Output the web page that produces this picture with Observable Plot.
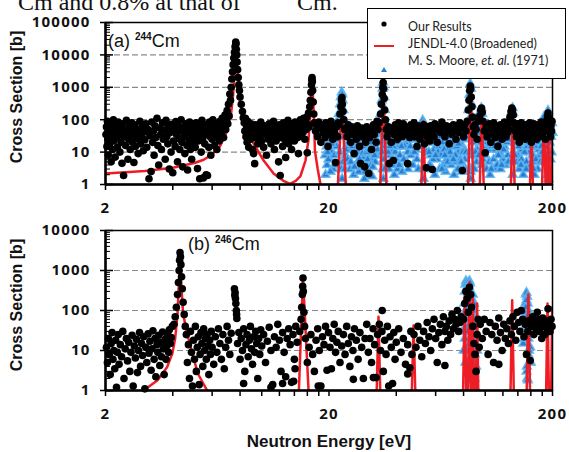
<!DOCTYPE html>
<html><head><meta charset="utf-8">
<script src="https://cdn.jsdelivr.net/npm/d3@7"></script>
<script src="https://cdn.jsdelivr.net/npm/@observablehq/plot@0.6"></script>
<style>
body{margin:0;background:#fff;}
#wrap{position:relative;width:569px;height:452px;overflow:hidden;font-family:"Liberation Sans",Arial,sans-serif;background:#fff;}
#wrap > svg{position:absolute;left:0;top:0;}
#wrap svg text{letter-spacing:1.2px;}
.abs{position:absolute;white-space:nowrap;}
.ytitle{font-weight:bold;font-size:16px;transform:translate(-50%,-50%) rotate(-90deg);color:#111;}
.plabel{font-size:18px;color:#111;}
.plabel sup{font-size:10px;font-weight:bold;vertical-align:7px;}
#legend{position:absolute;left:367px;top:8px;width:197px;height:69px;border:1.3px solid #000;background:#fff;font-family:Lato,"Liberation Sans",sans-serif;font-size:12.5px;color:#222;}
#legend .t{position:absolute;left:40px;white-space:nowrap;transform:translateY(-50%);}
</style></head><body>
<div id="wrap">
  <div class="abs" style="left:18px;top:-10px;font-family:'Liberation Serif',serif;font-size:24px;line-height:24px;color:#111;">Cm and 0.8% at that of</div>
  <div class="abs" style="left:297px;top:-10px;font-family:'Liberation Serif',serif;font-size:24px;line-height:24px;color:#111;">Cm.</div>
</div>
<script>
// ---------- tick labels ----------
const xTickLabels = [2, 20, 200];
const xMinorTicks = [2,4,6,8,10,12,14,16,18,20,40,60,80,100,120,140,160,180,200];
const yTickLabelsA = [1, 10, 100, 1000, 10000, 100000];
const yTickLabelsB = [1, 10, 100, 1000, 10000];
const yMinorTicksA = [2,3,4,5,6,7,8,9,20,30,40,50,60,70,80,90,200,300,400,500,600,700,800,900,2000,3000,4000,5000,6000,7000,8000,9000,20000,30000,40000,50000,60000,70000,80000,90000];
const yMinorTicksB = [2,3,4,5,6,7,8,9,20,30,40,50,60,70,80,90,200,300,400,500,600,700,800,900,2000,3000,4000,5000,6000,7000,8000,9000];
const gridA = [10, 100, 1000, 10000];
const gridB = [10, 100, 1000];

// ---------- (a) 244Cm : Our Results [E (eV), sigma (b)] ----------
const ourResultsA = [
[2.01,35],[2.02,60],[2.03,15],[2.04,90],[2.05,25],[2.06,8],[2.07,45],[2.09,18],[2.1,70],[2.11,30],[2.12,5],[2.14,50],[2.15,12],[2.17,100],[2.18,22],[2.2,40],[2.21,7],[2.23,65],[2.25,28],[2.26,14],[2.28,85],[2.3,35],[2.32,10],[2.33,55],[2.35,20],[2.37,4.5],[2.39,75],[2.41,1.9],[2.42,30],[2.44,48],[2.46,16],[2.48,95],[2.5,38],[2.52,6],[2.54,25],[2.56,60],[2.58,12],[2.6,45],[2.62,80],[2.64,20],[2.66,33],[2.68,4.8],[2.7,70],[2.72,15],[2.75,52],[2.77,26],[2.8,9],[2.82,40],[2.85,90],[2.87,18],[2.9,30],[2.92,62],[2.95,11],[2.98,42],
[3.0,24],[3.03,75],[3.06,14],[3.1,50],[3.13,1.5],[3.16,32],[3.2,2.5],[3.22,85],[3.25,20],[3.28,45],[3.3,8],[3.33,65],[3.36,28],[3.4,110],[3.43,16],[3.46,4],[3.5,55],[3.53,35],[3.56,12],[3.6,80],[3.63,25],[3.66,48],[3.7,6],[3.73,95],[3.76,30],[3.8,18],[3.83,60],[3.86,3],[3.9,40],[3.93,10],[3.96,72],[4.0,2.3],[4.03,22],[4.06,50],[4.1,15],[4.13,88],[4.16,35],[4.2,5],[4.23,65],[4.26,26],[4.3,12],[4.33,45],[4.36,100],[4.4,20],[4.43,3.5],[4.46,58],[4.5,30],[4.53,9],[4.56,75],[4.6,40],[4.63,16],[4.66,2.8],[4.7,55],[4.73,24],[4.76,85],[4.8,12],[4.83,38],[4.86,6],[4.9,68],[4.93,28],[4.96,18],
[5.0,48],[5.04,14],[5.08,80],[5.12,32],[5.16,3.1],[5.2,22],[5.24,60],[5.28,1.5],[5.32,40],[5.36,10],[5.4,95],[5.44,26],[5.48,1.6],[5.52,52],[5.56,18],[5.6,70],[5.64,2],[5.68,35],[5.72,1.9],[5.76,45],[5.8,14],[5.84,85],[5.88,30],[5.92,8],[5.96,58],[6.0,25],[6.05,100],[6.1,40],[6.15,16],[6.2,65],[6.25,30],[6.3,12],[6.35,75],[6.4,45],[6.45,22],[6.5,90],[6.55,55],[6.6,35],[6.65,110],[6.7,60],[6.75,28],[6.8,85],[6.85,140],[6.9,50],[6.95,100],[7.0,190],[7.05,75],[7.1,300],[7.15,130],[7.2,620],[7.25,400],
[7.3,1000],[7.35,1800],[7.4,3000],[7.45,5000],[7.5,8000],[7.55,12000],[7.6,18000],[7.65,25000],[7.68,22000],[7.7,15000],[7.73,10000],[7.76,6000],[7.8,3500],[7.85,2000],[7.9,1200],[7.95,800],[8.0,500],[8.1,300],[8.2,180],[8.27,115],
[8.35,80],[8.4,45],[8.45,110],[8.5,30],[8.55,65],[8.6,20],[8.65,90],[8.7,40],[8.75,14],[8.8,55],[8.9,25],[8.95,75],[9.0,35],[9.1,12],[9.2,9],[9.25,50],[9.3,4.4],[9.35,28],[9.4,70],[9.5,40],[9.6,18],[9.7,60],[9.8,30],[9.9,85],[10.0,22],[10.1,45],[10.2,14],[10.3,65],[10.4,35],[10.5,8],[10.6,50],[10.7,25],[10.8,75],[10.9,40],[11.0,18],[11.1,55],[11.2,30],[11.3,90],[11.4,12],[11.5,45],[11.6,22],[11.7,60],[11.8,35],[11.9,5],[12.0,70],[12.1,1.9],[12.2,28],[12.3,50],[12.4,15],[12.5,80],[12.6,38],[12.7,24],[12.8,6.8],[12.9,55],[13.0,32],[13.1,95],[13.2,18],[13.3,45],[13.4,65],[13.5,26],[13.6,12],[13.7,75],[13.8,40],[13.9,55],[14.0,22],[14.1,85],[14.2,35],[14.4,60],[14.5,28],[14.6,9],[14.7,70],[14.8,45],[14.9,100],[15.0,32],[15.1,55],[15.2,80],[15.3,40],[15.4,110],[15.5,65],[15.6,25],[15.7,90],[15.8,50],[15.9,120],[16.0,9.5],[16.1,70],[16.2,160],
[16.3,60],[16.4,250],[16.5,400],[16.6,700],[16.7,1200],[16.75,1700],[16.8,2000],[16.85,1500],[16.9,800],[17.0,350],[17.1,150],[17.2,80],
[17.4,45],[17.6,70],[17.8,30],[18.0,85],[18.2,55],[18.4,20],[18.6,70],[18.8,40],[19.0,60],[19.2,28],[19.4,80],[19.6,45],[19.8,15],[20.0,70],[20.2,35],[20.4,90],[20.6,50],[20.8,25],[21.0,65],[21.2,40],[21.4,4.8],[21.6,60],[21.8,30],[22.0,80],
[22.2,70],[22.4,150],[22.6,250],[22.75,400],[22.85,480],[22.95,300],[23.1,180],[23.3,100],[23.5,50],
[23.8,55],[24.1,30],[24.4,70],[24.7,45],[25.0,20],[25.3,60],[25.6,35],[25.9,9],[26.2,50],[26.5,25],[26.8,65],[27.1,40],[27.4,15],[27.7,4.4],[28.0,55],[28.3,30],[28.6,45],[28.9,3.5],[29.2,20],[29.5,60],[29.8,40],[30.1,2.2],[30.4,28],[30.7,50],[31.0,12],[31.3,45],[31.6,70],[31.9,35],[32.2,55],[32.5,20],[32.8,90],[33.1,50],[33.5,80],
[34.0,150],[34.3,300],[34.6,600],[34.8,1000],[34.95,1400],[35.1,900],[35.3,450],[35.5,200],[35.8,100],[36.1,50],
[36.4,30],[36.8,60],[37.2,4.4],[37.6,45],[38.0,20],[38.4,55],[38.8,5.5],[39.2,35],[39.6,70],[40.0,50],[40.5,25],[41.0,80],[41.5,40],[42.0,55],[42.5,30],[43.0,75],[43.5,45],[44.0,60],[44.5,35],[45.0,4.4],[45.5,50],[46.0,28],[46.5,70],[47.0,40],[47.5,60],[48.0,80],[48.5,30],[49.0,50],[49.5,15],[50.0,65],[50.5,40],[51.0,25],[51.5,55],[52.0,45],[52.5,35],[53.0,70],[53.5,18],[54.0,50],[54.5,3.3],[55.0,30],[55.5,60],[56.0,40],[56.5,22],[57.0,65],[57.5,45],[58.0,2.9],[58.5,55],[59.0,30],[59.5,75],[60,50],[61,20],[62,60],[63,40],[64,85],[65,55],[66,30],[67,65],[68,45],[69,18],[70,60],[71,35],[72,70],[73,50],[74,25],[75,65],[76,40],[77,80],[78,55],[79,2.7],[80,30],[81,70],[82,45],[83,90],
[84,200],[84.6,400],[85.2,800],[85.7,1100],[86.1,900],[86.6,500],[87.2,250],[87.8,120],[88.5,60],
[89,35],[90,70],[91,50],[92,25],[93,90],[94.5,130],[95.5,200],[96.3,230],[97,170],[97.8,90],
[99,45],[100,9.5],[101,60],[102,30],[103,55],[104,75],[105,40],[106,20],[107,60],[108,35],[109,80],[110,50],[111,28],[112,65],[113,45],[114,15],[115,60],[116,35],[117,70],[118,50],[119,25],[120,60],[121,40],[122,85],[123,55],[124,30],[125,60],[126,40],[127,75],[128,50],[129,120],
[130.5,180],[131.5,230],[132.5,200],[133.5,140],[134.5,80],
[136,45],[137,65],[138,30],[139,55],[140,75],[141,40],[142,20],[143,60],[144,35],[145,80],[146,50],[147,28],[148,65],[149,45],[150,60],[151,25],[152,70],[153,40],[154,55],[155,30],[156,65],[157,45],[158,80],[159,35],[160,60],[161,20],[162,70],[163,50],[164,40],[165,75],[166,30],[167,55],[168,65],[169,45],[170,25],[171,60],[172,40],[173,70],[174,50],[175,30],[176,60],[177,40],[178,85],[179,55],[180,35],[182,65],[184,45],[186,25],[188,60],[189,100],[190,130],[191,160],[192,120],[193,80],[194,40],[195,60],[196,30],[197,65],[198,45],[199,90]
];

// ---------- (a) JENDL-4.0 (broadened) ----------
const jendlA = [
[2,2.2],[3,2.6],[4,3.3],[5,4.6],[5.5,5.8],[6,8.5],[6.5,15],[7,45],[7.3,160],[7.45,600],[7.55,3000],[7.62,12000],[7.67,25000],[7.72,12000],[7.8,3000],[7.9,900],[8.0,400],[8.27,115],[8.7,40],[9.2,18],[9.6,11],[10.2,5.5],[11.3,2.2],[12.5,1.3],[13.4,1.05],[14.2,1.3],[14.9,1.8],[15.7,5.5],[16.2,25],[16.5,150],[16.7,800],[16.8,2000],[16.9,800],[17.1,150],[17.3,11],[17.8,3],[18.3,1.05],[18.8,0.4],
[21.8,0.4],[22.85,500],[23.9,0.4],
[33.8,0.4],[35.0,1300],[36.3,0.4],
[51.6,0.4],[52.8,90],[54.1,0.4],
[83.6,0.4],[86.1,1200],[88.6,0.4],
[94.3,0.4],[96.5,230],[98.7,0.4],
[129.9,0.4],[132.8,230],[135.7,0.4],
[158,0.4],[161,40],[164,0.4],
[179,0.4],[183,100],[187,0.4],
[188.5,0.4],[191,190],[193.5,0.4],
[196.5,0.4],[199,60],[201.5,0.4]
];

// ---------- (a) M. S. Moore et al. (1971) ----------
const mooreA = [
[19.2,8],[19.5,15],[19.8,25],[20.1,12],[20.4,30],[20.7,45],[21.0,20],[21.3,60],[21.5,35],[19.6,4],[20.2,6],[20.9,3],[19.4,40],[19.9,6],[20.5,10],[21.1,8],[21.6,15],
[19.3,2],[19.7,10],[20.0,50],[20.3,2.5],[20.6,18],[21.2,4],[21.4,25],
[21.8,90],[22.1,150],[22.3,10],[22.4,300],[22.5,30],[22.6,500],[22.8,700],[22.9,600],[23.0,400],[23.2,200],[23.4,100],[23.6,40],[23.9,15],[22.7,3],[22.9,1.5],[23.1,5],[22.2,60],[22.7,200],[23.3,50],[23.7,8],[23.5,3],
[24.5,20],[25,12],[25.5,30],[26,8],[26.5,18],[27,5],[27.5,10],[28,3],[28.5,7],[29,15],[29.5,4],[30,9],[30.5,2],[31,6],[31.5,12],[32,25],[32.5,8],[33,40],
[24.2,6],[24.8,3],[25.2,45],[25.8,2],[26.2,25],[26.8,12],[27.2,2.5],[27.8,20],[28.2,9],[28.8,1.5],[29.2,30],[29.8,6],[30.2,18],[30.8,4],[31.2,1.8],[31.8,15],[32.2,5],[32.8,60],[33.2,20],
[24.0,12],[24.4,40],[25.0,5],[25.4,15],[26.0,3.5],[26.4,40],[27.0,18],[27.4,6],[28.0,25],[28.4,4],[29.0,2.5],[29.4,10],[30.0,30],[30.4,12],[31.0,20],[31.4,3.5],[32.0,8],[32.4,35],[33.0,12],
[33.5,80],[34,150],[34.4,400],[34.7,900],[34.9,1400],[35.1,1000],[35.3,500],[35.6,200],[36,80],[36.4,30],[34.8,3],[35,1.5],[35.2,6],[34.5,20],[35.5,15],[34.2,60],[35.8,40],[34.6,10],[35.4,3],
[37,20],[37.5,8],[38,12],[38.5,4],[39,25],[39.5,10],[40,6],[41,15],[42,30],[43,50],[44,20],[45,10],[46,35],[47,60],[48,25],[49,12],[50,40],
[36.8,10],[37.2,3],[37.8,30],[38.2,6],[38.8,15],[39.2,2],[39.8,40],[40.5,3],[41.5,8],[42.5,2.5],[43.5,15],[44.5,5],[45.5,25],[46.5,8],[47.5,4],[48.5,45],[49.5,6],[50.5,15],
[37.4,15],[38.4,25],[39.4,5],[40.2,20],[41.2,4],[42.2,15],[43.2,6],[44.2,35],[45.2,3],[46.2,15],[47.2,25],[48.2,10],[49.2,30],[50.2,3],
[51.5,40],[52,70],[52.5,95],[53,80],[53.5,50],[54,30],[52.8,3],[53,1.5],[54.5,10],[55,20],
[57,8],[58,3],[59,12],[60,25],[61,6],[62,15],[63,30],[64,10],[65,4],[66,18],[67,35],[68,12],[69,50],[70,20],[71,8],[72,14],[74,5],[75,25],[76,10],[77,3],[78,18],[79,40],[80,12],[81,6],[82,30],
[57.5,20],[58.5,6],[59.5,2],[60.5,40],[61.5,10],[62.5,3],[63.5,8],[64.5,20],[65.5,12],[66.5,2.5],[67.5,6],[68.5,25],[69.5,10],[70.5,4],[71.5,30],[72.5,2],[73,20],[73.5,8],[74.5,15],[75.5,3],[76.5,40],[77.5,6],[78.5,2.5],[79.5,10],[80.5,25],[81.5,3],
[56,10],[56.5,4],[58,30],[60,8],[62,40],[64,3],[66,8],[68,5],[70,45],[72,6],[74,30],[76,18],[78,5],[80,3],[82,10],
[83,60],[84,200],[85,600],[85.7,1300],[86.3,900],[87,300],[87.5,80],[85.9,3],[86.1,1.5],[88,20],[84.5,100],[86,2.5],[87.2,40],[85.4,10],[86.6,8],
[90,25],[92,12],[93,40],[94,100],[95,180],[96,230],[97,150],[98,60],[96.4,4],[99,15],
[88.5,8],[89,40],[89.5,3],[90.5,10],[91,60],[91.5,5],[92.5,25],[93.5,8],[94.5,50],[95.5,20],[97.5,6],[98.5,25],
[100,8],[102,20],[104,5],[106,30],[108,12],[110,3],[112,18],[114,40],[116,10],[118,25],[120,6],[122,15],[124,30],[126,8],[128,50],
[101,40],[101.5,3],[103,12],[105,2],[107,15],[109,6],[111,35],[113,4],[115,20],[117,3],[119,45],[121,12],[123,4],[125,20],[127,5],[129,25],
[100.5,25],[104.5,18],[106.5,3],[110.5,15],[114.5,8],[118.5,4],[122.5,35],[126.5,25],
[130,100],[131.5,180],[132.5,230],[133.5,160],[135,60],[132.8,2],[133,5],
[137,20],[140,8],[143,30],[146,12],[149,4],[152,22],[155,35],[158,10],[161,40],[164,15],[167,5],[170,25],[173,12],[176,30],
[138,5],[139,40],[141,15],[142,3],[144,20],[145,6],[147,50],[148,2],[150,10],[151,30],[153,5],[154,15],[156,3],[157,20],[159,60],[160,4],[162,25],[163,8],[165,30],[166,2],[168,15],[169,45],[171,6],[172,3],[174,20],[175,8],[177,50],[178,15],
[136,8],[140.5,25],[144.5,4],[148.5,25],[152.5,3],[156.5,40],[160.5,15],[164.5,3],[168.5,6],[172.5,35],[176.5,5],
[179,40],[181,80],[183,120],[185,60],[187,25],[189,90],[191,190],[193,120],[195,60],[197,30],[199,80],[190,2],[192,1.5],
[180,10],[182,5],[184,30],[186,8],[188,15],[190,40],[194,20],[196,6],[198,10],[200,40]
];

// ---------- (b) 246Cm : Our Results ----------
const ourResultsB = [
[2.02,12],[2.04,5],[2.06,20],[2.08,8],[2.1,2.5],[2.12,15],[2.14,28],[2.16,6],[2.18,10],[2.2,3.5],[2.22,18],[2.24,1.2],[2.26,9],[2.28,25],[2.3,4.5],[2.33,14],[2.36,7],[2.39,30],[2.42,2],[2.45,11],[2.48,20],[2.51,5.5],[2.54,16],[2.57,3],[2.6,9],[2.63,24],[2.66,1.3],[2.69,13],[2.72,6.5],[2.75,19],[2.78,2.8],[2.81,10],[2.84,28],[2.87,4],[2.9,15],[2.93,7.5],[2.96,22],[3.0,1.1],[3.03,12],[3.06,5],[3.1,26],[3.13,8.5],[3.16,17],[3.2,3.2],[3.23,11],[3.26,31],[3.3,6],[3.33,20],[3.36,2.2],[3.4,14],[3.43,9],[3.46,24],[3.5,4.2],[3.53,16],[3.56,7],[3.6,29],[3.63,11],[3.66,2.5],[3.7,19],[3.73,6],[3.76,13],[3.8,25],[3.83,9],[3.86,33],[3.9,15],[3.94,21],[3.98,40],
[4.05,45],[4.1,70],[4.15,120],[4.2,250],[4.24,500],[4.27,1000],[4.29,1800],[4.31,2800],[4.33,2200],[4.35,1400],[4.38,700],[4.41,350],[4.45,160],[4.5,80],[4.55,40],
[4.6,25],[4.65,5],[4.7,14],[4.75,2],[4.8,30],[4.85,9],[4.9,1.3],[4.95,18],[5.0,6],[5.05,40],[5.1,3],[5.15,12],[5.2,22],[5.25,1.4],[5.3,8],[5.35,28],[5.4,15],[5.45,4],[5.5,35],[5.55,10],[5.6,20],[5.65,6],[5.7,25],[5.75,13],[5.8,2.5],[5.85,18],[5.9,8],[5.95,30],[6.0,12],[6.1,4.5],[6.2,22],[6.3,9],[6.4,35],[6.5,15],[6.6,6],[6.7,25],[6.8,3.5],[6.9,12],[7.0,40],[7.1,18],[7.2,8],[7.3,27],
[7.55,350],[7.58,240],[7.6,280],[7.63,200],[7.66,150],[7.7,100],[7.72,80],[7.74,63],
[7.8,15],[7.9,28],[8.0,6],[8.1,20],[8.2,10],[8.3,35],[8.3,1.5],[8.4,3],[8.5,14],[8.6,25],[8.7,7],[8.8,18],[8.9,40],[9.0,11],[9.1,4.5],[9.2,22],[9.3,9],[9.4,30],[9.5,15],[9.6,2],[9.7,20],[9.8,8],[9.9,33],[10.0,13],[10.2,25],[10.4,5],[10.6,17],[10.8,38],[11.0,10],[11.0,1.2],[11.2,1.4],[11.4,22],[11.6,12],[11.8,45],[12.0,18],[12.2,3],[12.4,28],[12.4,1.5],[12.6,9],[12.8,2.2],[13.0,20],[13.2,35],[13.4,14],[13.6,1.6],[13.8,25],[13.9,1.7],[14.0,6],[14.1,3.5],[14.2,40],[14.4,16],
[14.8,30],[15.0,60],[15.1,120],[15.2,250],[15.25,400],[15.3,650],[15.35,300],[15.45,90],[15.55,40],[15.7,20],
[16.0,5],[16.3,12],[16.6,25],[16.9,8],[17.2,3],[17.5,18],[17.8,35],[17.9,1.3],[18.1,10],[18.4,1.3],[18.7,22],[19.0,14],[19.3,40],[19.6,3.2],[19.9,28],[20.2,12],[20.5,3.5],[20.8,20],[21.1,45],[21.4,9],[21.7,16],[22.0,30],[22.4,5],[22.8,13],[23.2,25],[23.6,8],[24.0,40],[24.4,15],[24.8,4],[25.2,22],[25.7,1.9],[25.6,10],[26.0,35],[26.5,18],[27.0,6],[27.5,28],[28.0,12],[28.5,2],[29.0,20],[29.5,45],[30.0,9],
[30.5,20],[31.0,5],[31.5,35],[31.6,2.1],[32.0,14],[32.5,2.1],[33.0,25],[34.6,100],[33.6,45],[34.0,10],[34.5,30],[35.0,3],[35.5,18],[36.0,8],[36.5,40],[37.0,1.3],[37.5,22],[38.0,12],[38.5,1.5],[39.0,28],[39.5,6],[40.0,16],[41.0,35],[42.0,9],[43.0,20],[44.0,4.5],[45.0,2.6],[45.0,14],[46.0,3.7],[46.5,30],[47.0,8],
[48,25],[49,12],[50,40],[51,18],[52,7],[53,30],[54,15],[55,50],[56,22],[57,10],[58,35],[59,60],[60,20],[61,5],[62,28],[63,45],[64,14],[65,70],[66,4.2],[66,30],[67,40],[68,18],[69,55],[70,25],[71,80],[72,35],[73,60],[74,45],[75,100],[76,30],[77,50],[78,70],
[80,60],[81,150],[82,300],[83,200],[84,90],[85,380],[86,250],[87,120],[88,40],[89,15],[90,8],[91,3],[92,25],[93,60],[94,12],
[95,45],[97,20],[99,60],[101,30],[103,8],[105,50],[107,25],[109,5],[111,40],[113,18],[115,4.5],[115,65],[117,28],[119,10],[121,45],[123,20],[125,35],[127,15],[129,55],[131,25],[133,70],[135,40],[137,18],[139,90],[141,50],[143,30],[145,100],[147,60],[149,22],[151,45],[153,8],[155,30],[157,55],[159,5.6],[161,40],[163,70],[165,25],[167,50],[169,35],[171,90],[173,60],[175,30],[177,45],[179,20],[181,65],[183,40],[185,25],[187,55],[189,35],[191,110],[193,45],[195,30],[197,60],[199,40]
];

// ---------- (b) JENDL-4.0 (broadened) ----------
const jendlB = [
[2,0.3],[2.96,1],[3.42,1.8],[3.77,3.8],[3.98,8.4],[4.1,20],[4.2,80],[4.26,500],[4.31,2800],[4.36,500],[4.45,80],[4.7,20],[5.17,2.7],[5.7,1],[6,0.5],
[14.6,0.5],[15.3,670],[16.3,0.5],
[32.6,0.5],[33.3,70],[34.0,0.5],
[46.8,0.5],[47.8,42],[48.8,0.5],
[79.5,0.5],[81,300],[82.3,0.5],
[83.6,0.5],[85,500],[86.4,0.5],
[86.8,0.5],[88,200],[89.2,0.5],
[90.8,0.5],[92,150],[93.2,0.5],
[129.5,0.5],[132,180],[134.5,0.5],
[153,0.5],[156,250],[159,0.5],
[187,0.5],[190,150],[193,0.5],
[197,0.5],[199.5,120],[202,0.5]
];

// ---------- (b) M. S. Moore et al. (1971) ----------
const mooreB = [
[79,30],[80,80],[80.5,150],[81,300],[81.5,450],[82,550],[82.5,500],[83,350],[83.5,200],[84,120],[84.5,400],[85,550],[85.5,480],[86,300],[86.5,150],[87,80],[87.5,40],[88,20],[88.5,8],[89,4],[89.5,2],[90,1.2],[82,10],[83,5],[84,3],[85,1.8],[86,2.5],[87,6],[88,250],[89,150],[90,60],[91,25],[92,10],[86,20],[84,40],[82.5,80],
[80,10],[81,20],[82,100],[83,150],[84,200],[85,80],[86,60],[87,200],[88,100],[81.5,5],[83.5,30],[85.5,15],[87.5,3],[88.5,50],[89,15],[90,8],[91,4],
[148,15],[150,60],[151,150],[152,250],[153,280],[154,220],[155,150],[156,100],[157,60],[158,30],[159,12],[160,5],[153,3],[154,2],[155,1.8],[156,8],[152,20],[151,40],
[150,20],[151,90],[152,120],[153,180],[154,70],[155,40],[156,20],[157,10],[158,5],[153.5,4]
];

// ---------- drawing ----------
const W = 569, H = 452, ML = 105, MR = 17;
const RED = "#ee1c25", BLUE = "#2a7ad0", LBLUE = "#5cb4f0";

function panel({top, bottom, yDomain, yLabels, yMinor, grid, black, red, blue}) {
  const ph = H - top - bottom, pw = W - ML - MR;
  return Plot.plot({
    width: W, height: H,
    marginLeft: ML, marginRight: MR, marginTop: top, marginBottom: bottom,
    style: {background: "transparent", overflow: "visible"},
    x: {type: "log", domain: [2, 200], axis: null},
    y: {type: "log", domain: yDomain, axis: null},
    marks: [
      Plot.ruleY(grid, {y: d => d, stroke: "#8a8a8a", strokeWidth: 1.2, strokeDasharray: "6,3"}),
      Plot.dot(blue, {x: d => d[0], y: d => d[1], symbol: "triangle", r: 3.2, fill: BLUE, stroke: LBLUE, strokeWidth: 1.6, strokeOpacity: 0.85}),
      Plot.line(red, {x: d => d[0], y: d => d[1], stroke: RED, strokeWidth: 2.5, clip: true}),
      Plot.dot(black, {x: d => d[0], y: d => d[1], r: 3.8, fill: "#000", stroke: "none"}),
      Plot.frame({stroke: "#000", strokeWidth: 1.5}),
      Plot.ruleX([2], {stroke: "#000", strokeWidth: 2.5}),
      Plot.ruleY([yDomain[0]], {stroke: "#000", strokeWidth: 2.5}),
      Plot.tickY(yLabels, {y: d => d, insetLeft: -5, insetRight: pw - 8, stroke: "#000", strokeWidth: 1.5}),
      Plot.tickY(yMinor, {y: d => d, insetRight: pw - 5, stroke: "#000", strokeWidth: 1}),
      Plot.tickX(xMinorTicks, {x: d => d, insetTop: ph, insetBottom: -6, stroke: "#000", strokeWidth: 1.5}),
      Plot.text(yLabels, {y: d => d, text: d => String(d), frameAnchor: "left", dx: -15, textAnchor: "end", fontSize: 15, fontWeight: "bold", fill: "#111"}),
      Plot.text(xTickLabels, {x: d => d, text: d => String(d), frameAnchor: "bottom", dy: 28, fontSize: 15, fontWeight: "bold", fill: "#111"})
    ]
  });
}

const wrap = document.getElementById("wrap");
wrap.appendChild(panel({top: 22, bottom: 268, yDomain: [1, 100000], yLabels: yTickLabelsA, yMinor: yMinorTicksA, grid: gridA, black: ourResultsA, red: jendlA, blue: mooreA}));
wrap.appendChild(panel({top: 230, bottom: 62, yDomain: [1, 10000], yLabels: yTickLabelsB, yMinor: yMinorTicksB, grid: gridB, black: ourResultsB, red: jendlB, blue: mooreB}));

// titles and labels (HTML)
function addDiv(cls, style, html) {
  const d = document.createElement("div");
  d.className = cls; d.setAttribute("style", style); d.innerHTML = html;
  wrap.appendChild(d); return d;
}
addDiv("abs ytitle", "left:17px;top:97px;", "Cross Section [b]");
addDiv("abs ytitle", "left:17px;top:305px;", "Cross Section [b]");
addDiv("abs", "left:329px;top:442px;transform:translate(-50%,-50%);font-weight:bold;font-size:17px;color:#111;", "Neutron Energy [eV]");
addDiv("abs plabel", "left:108px;top:31px;", "(a) <sup>244</sup>Cm");
addDiv("abs plabel", "left:188px;top:234px;", "(b) <sup>246</sup>Cm");

const legend = addDiv("", "", "");
legend.id = "legend";
legend.innerHTML = `
<svg width="197" height="69" style="position:absolute;left:0;top:0">
  <circle cx="16" cy="15" r="2.6" fill="#000"/>
  <line x1="6" x2="26" y1="37" y2="37" stroke="${RED}" stroke-width="2"/>
  <path d="M16,58 L19,63 L13,63 Z" fill="${BLUE}"/>
</svg>
<div class="t" style="top:17px">Our Results</div>
<div class="t" style="top:34px">JENDL-4.0 (Broadened)</div>
<div class="t" style="top:51px">M. S. Moore, <i>et. al.</i> (1971)</div>`;
</script>
</body></html>
